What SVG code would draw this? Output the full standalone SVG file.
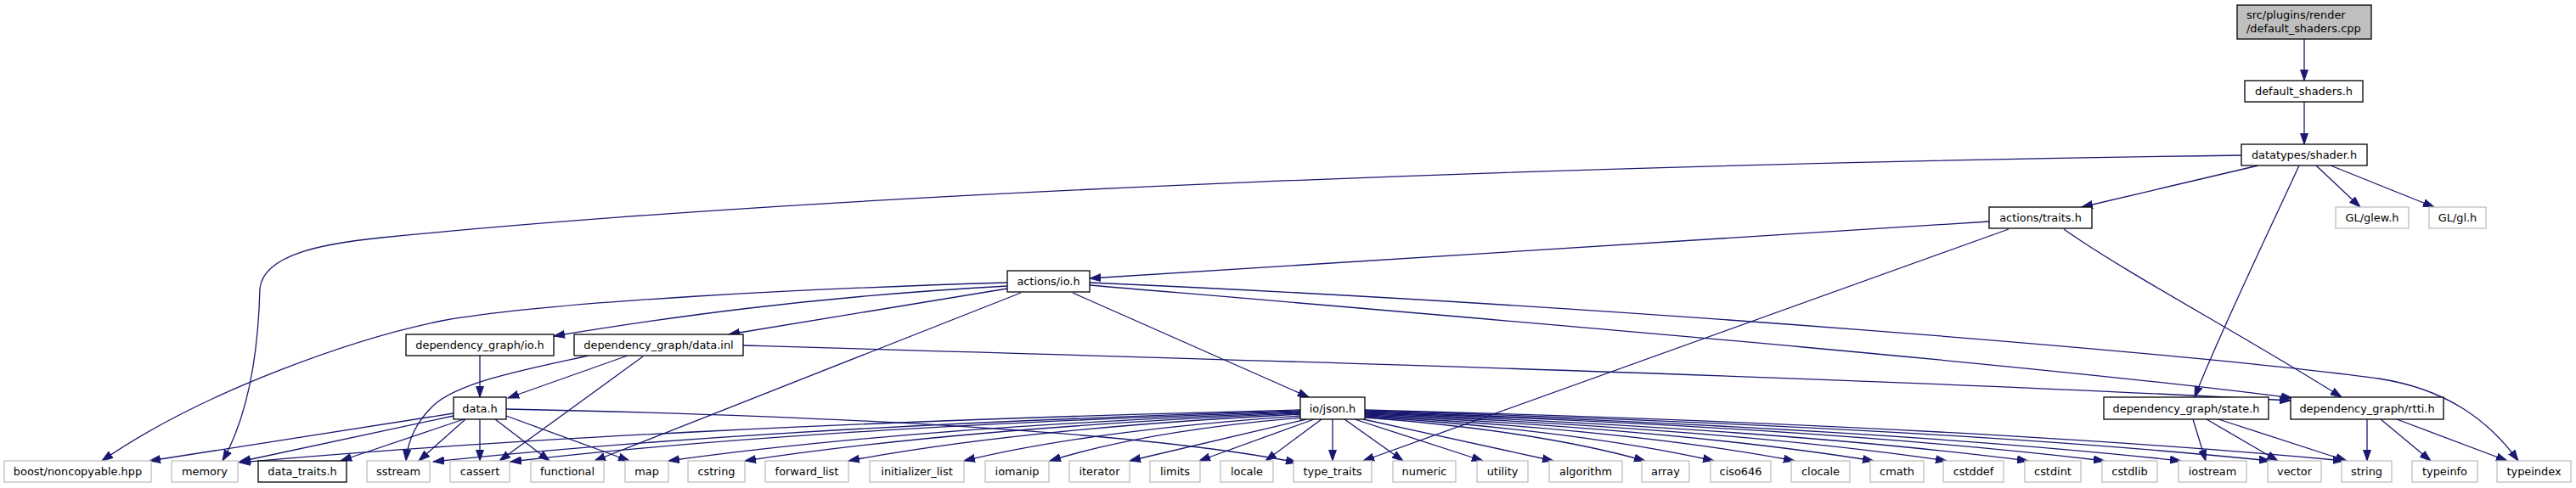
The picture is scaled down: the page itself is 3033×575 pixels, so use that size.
<svg xmlns="http://www.w3.org/2000/svg" width="3033" height="575" viewBox="0 0 3033 575">
<defs>
<marker id="a" markerUnits="userSpaceOnUse" markerWidth="14" markerHeight="10" refX="13" refY="5" orient="auto">
<path d="M0,0.5 L13,5 L0,9.5 z" fill="#191970" stroke="#191970" stroke-width="1"/>
</marker>
<style>
.n rect{fill:#ffffff;stroke:#000000;stroke-width:1.3}
.x rect{fill:#ffffff;stroke:#bfbfbf;stroke-width:1.3}
.r rect{fill:#bfbfbf;stroke:#000000;stroke-width:1.3}
text{font-family:"DejaVu Sans","Liberation Sans",sans-serif;font-size:12.9px;fill:#000000;text-anchor:middle}
.r text{text-anchor:start}
#edges path{fill:none;stroke:#191970;stroke-width:1.3;marker-end:url(#a)}
</style>
</defs>
<rect width="3033" height="575" fill="#ffffff"/>
<g id="edges">
<path d="M2713,46 L2713,95"/>
<path d="M2713,120 L2713,170"/>
<path d="M2639,183 C1900,193 1000,225 449,280 C380,287 310,300 306,340 C304,420 292,490 262,543"/>
<path d="M2659,195 L2451,244"/>
<path d="M2707,195 C2675,265 2610,400 2584,468"/>
<path d="M2727,195 L2779,244"/>
<path d="M2744,195 L2866,244"/>
<path d="M2342,261 L1283,328"/>
<path d="M2365,270 L1605,543"/>
<path d="M2430,270 C2500,320 2650,400 2757,468"/>
<path d="M1186,333 C950,340 650,355 520,378 C420,398 240,460 120,543"/>
<path d="M1186,337 C950,350 780,375 652,396"/>
<path d="M1186,340 L858,394"/>
<path d="M1202,345 L700,543"/>
<path d="M1263,345 L1541,468"/>
<path d="M1283,336 C1800,380 2400,430 2699,469"/>
<path d="M1283,333 C1900,360 2600,418 2800,446 C2880,458 2930,495 2965,543"/>
<path d="M565,419 L565,468"/>
<path d="M739,419 L598,469"/>
<path d="M693,419 C620,435 540,450 510,478 C490,497 480,520 478,543"/>
<path d="M757,420 L588,543"/>
<path d="M875,407 C1500,425 2200,445 2697,472"/>
<path d="M534,487 L176,543"/>
<path d="M534,490 L282,544"/>
<path d="M546,494 L401,543"/>
<path d="M548,494 L493,543"/>
<path d="M565,494 L565,543"/>
<path d="M583,494 L647,543"/>
<path d="M596,490 L741,543"/>
<path d="M596,482 C1000,490 1350,510 1527,545"/>
<path d="M1531,483 C1031,495 594,517 282,545"/>
<path d="M1531,484 C1123,496 765,517 510,544"/>
<path d="M1531,485 C1159,497 833,517 601,544"/>
<path d="M1531,486 C1233,497 973,517 787,543"/>
<path d="M1531,487 C1269,498 1040,518 877,543"/>
<path d="M1531,488 C1318,499 1132,518 999,543"/>
<path d="M1531,490 C1373,501 1234,519 1135,543"/>
<path d="M1533,492 C1414,502 1310,520 1236,543"/>
<path d="M1538,494 L1330,543"/>
<path d="M1547,494 L1412,543"/>
<path d="M1556,494 L1490,543"/>
<path d="M1569,494 L1569,543"/>
<path d="M1583,494 L1652,543"/>
<path d="M1595,494 L1746,543"/>
<path d="M1605,494 L1829,543"/>
<path d="M1607,492 C1739,502 1855,520 1937,543"/>
<path d="M1607,491 C1771,501 1915,520 2018,543"/>
<path d="M1607,490 C1809,501 1987,519 2113,543"/>
<path d="M1607,489 C1847,500 2056,519 2206,543"/>
<path d="M1607,488 C1881,499 2121,518 2292,543"/>
<path d="M1607,487 C1919,498 2193,518 2388,543"/>
<path d="M1607,486 C1955,497 2260,517 2478,543"/>
<path d="M1607,485 C1991,497 2328,517 2568,543"/>
<path d="M1607,484 C2033,496 2407,516 2673,543"/>
<path d="M1607,483 C2068,495 2472,516 2760,543"/>
<path d="M2582,494 L2597,543"/>
<path d="M2598,494 L2682,543"/>
<path d="M2612,494 L2763,543"/>
<path d="M2787,494 L2787,543"/>
<path d="M2803,494 L2862,543"/>
<path d="M2822,494 L2952,543"/>
</g>
<g id="node_root" class="r"><rect x="2634" y="6" width="158" height="40"/><text x="2645" y="22">src/plugins/render</text><text x="2645" y="37.5">/default_shaders.cpp</text></g>
<g id="node_default_shaders_h" class="n"><rect x="2643" y="95" width="139" height="25"/><text x="2712.5" y="111.5">default_shaders.h</text></g>
<g id="node_shader_h" class="n"><rect x="2639" y="170" width="148" height="25"/><text x="2713" y="186.5">datatypes/shader.h</text></g>
<g id="node_traits_h" class="n"><rect x="2342" y="244" width="121" height="25"/><text x="2402.5" y="260.5">actions/traits.h</text></g>
<g id="node_glew_h" class="x"><rect x="2750" y="244" width="86" height="25"/><text x="2793" y="260.5">GL/glew.h</text></g>
<g id="node_gl_h" class="x"><rect x="2860" y="244" width="67" height="25"/><text x="2893.5" y="260.5">GL/gl.h</text></g>
<g id="node_actions_io_h" class="n"><rect x="1186" y="319" width="97" height="25"/><text x="1234.5" y="335.5">actions/io.h</text></g>
<g id="node_dg_io_h" class="n"><rect x="478" y="394" width="174" height="25"/><text x="565" y="410.5">dependency_graph/io.h</text></g>
<g id="node_dg_data_inl" class="n"><rect x="676" y="394" width="199" height="25"/><text x="775.5" y="410.5">dependency_graph/data.inl</text></g>
<g id="node_data_h" class="n"><rect x="534" y="468" width="62" height="26"/><text x="565" y="485.5">data.h</text></g>
<g id="node_json_h" class="n"><rect x="1531" y="468" width="76" height="26"/><text x="1569" y="485.5">io/json.h</text></g>
<g id="node_state_h" class="n"><rect x="2477" y="468" width="194" height="26"/><text x="2574" y="485.5">dependency_graph/state.h</text></g>
<g id="node_rtti_h" class="n"><rect x="2697" y="468" width="180" height="26"/><text x="2787" y="485.5">dependency_graph/rtti.h</text></g>
<g id="node_boost" class="x"><rect x="5" y="543" width="173" height="25"/><text x="91.5" y="559.5">boost/noncopyable.hpp</text></g>
<g id="node_memory" class="x"><rect x="202" y="543" width="78" height="25"/><text x="241" y="559.5">memory</text></g>
<g id="node_data_traits_h" class="n"><rect x="304" y="543" width="104" height="25"/><text x="356" y="559.5">data_traits.h</text></g>
<g id="node_sstream" class="x"><rect x="432" y="543" width="74" height="25"/><text x="469" y="559.5">sstream</text></g>
<g id="node_cassert" class="x"><rect x="530" y="543" width="70" height="25"/><text x="565" y="559.5">cassert</text></g>
<g id="node_functional" class="x"><rect x="625" y="543" width="86" height="25"/><text x="668" y="559.5">functional</text></g>
<g id="node_map" class="x"><rect x="736" y="543" width="51" height="25"/><text x="761.5" y="559.5">map</text></g>
<g id="node_cstring" class="x"><rect x="810" y="543" width="67" height="25"/><text x="843.5" y="559.5">cstring</text></g>
<g id="node_forward_list" class="x"><rect x="901" y="543" width="98" height="25"/><text x="950" y="559.5">forward_list</text></g>
<g id="node_initializer_list" class="x"><rect x="1024" y="543" width="111" height="25"/><text x="1079.5" y="559.5">initializer_list</text></g>
<g id="node_iomanip" class="x"><rect x="1160" y="543" width="75" height="25"/><text x="1197.5" y="559.5">iomanip</text></g>
<g id="node_iterator" class="x"><rect x="1259" y="543" width="71" height="25"/><text x="1294.5" y="559.5">iterator</text></g>
<g id="node_limits" class="x"><rect x="1354" y="543" width="59" height="25"/><text x="1383.5" y="559.5">limits</text></g>
<g id="node_locale" class="x"><rect x="1437" y="543" width="62" height="25"/><text x="1468" y="559.5">locale</text></g>
<g id="node_type_traits" class="x"><rect x="1523" y="543" width="92" height="25"/><text x="1569" y="559.5">type_traits</text></g>
<g id="node_numeric" class="x"><rect x="1640" y="543" width="74" height="25"/><text x="1677" y="559.5">numeric</text></g>
<g id="node_utility" class="x"><rect x="1739" y="543" width="60" height="25"/><text x="1769" y="559.5">utility</text></g>
<g id="node_algorithm" class="x"><rect x="1824" y="543" width="86" height="25"/><text x="1867" y="559.5">algorithm</text></g>
<g id="node_array" class="x"><rect x="1933" y="543" width="56" height="25"/><text x="1961" y="559.5">array</text></g>
<g id="node_ciso646" class="x"><rect x="2014" y="543" width="71" height="25"/><text x="2049.5" y="559.5">ciso646</text></g>
<g id="node_clocale" class="x"><rect x="2109" y="543" width="69" height="25"/><text x="2143.5" y="559.5">clocale</text></g>
<g id="node_cmath" class="x"><rect x="2202" y="543" width="63" height="25"/><text x="2233.5" y="559.5">cmath</text></g>
<g id="node_cstddef" class="x"><rect x="2288" y="543" width="71" height="25"/><text x="2323.5" y="559.5">cstddef</text></g>
<g id="node_cstdint" class="x"><rect x="2384" y="543" width="66" height="25"/><text x="2417" y="559.5">cstdint</text></g>
<g id="node_cstdlib" class="x"><rect x="2475" y="543" width="65" height="25"/><text x="2507.5" y="559.5">cstdlib</text></g>
<g id="node_iostream" class="x"><rect x="2565" y="543" width="80" height="25"/><text x="2605" y="559.5">iostream</text></g>
<g id="node_vector" class="x"><rect x="2670" y="543" width="63" height="25"/><text x="2701.5" y="559.5">vector</text></g>
<g id="node_string" class="x"><rect x="2757" y="543" width="59" height="25"/><text x="2786.5" y="559.5">string</text></g>
<g id="node_typeinfo" class="x"><rect x="2840" y="543" width="77" height="25"/><text x="2878.5" y="559.5">typeinfo</text></g>
<g id="node_typeindex" class="x"><rect x="2940" y="543" width="87" height="25"/><text x="2983.5" y="559.5">typeindex</text></g>
</svg>
